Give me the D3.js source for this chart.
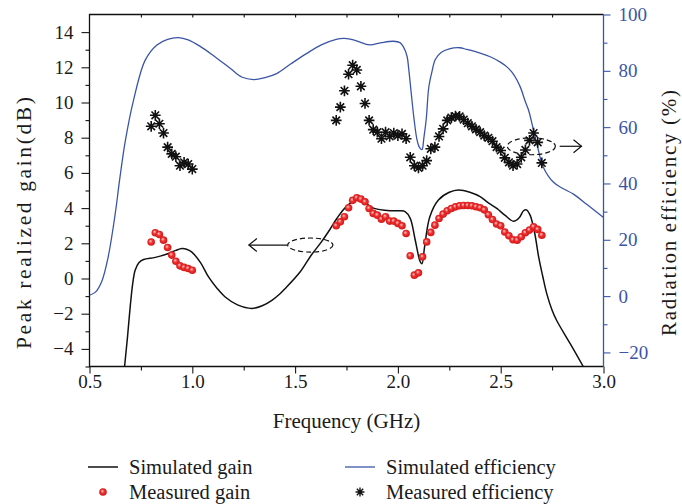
<!DOCTYPE html>
<html><head><meta charset="utf-8">
<script src="https://cdn.jsdelivr.net/npm/d3@7"></script>
<style>
body{margin:0;background:#fff}
svg{display:block}
svg text{font-family:"Liberation Serif","Times New Roman",serif;fill:#1a1a1a}
</style>
</head><body>
<svg id="c" width="682" height="504"></svg>
<script>
// ---------- data ----------
const xTicks = [0.5, 1.0, 1.5, 2.0, 2.5, 3.0];
const gainTicks = [-4, -2, 0, 2, 4, 6, 8, 10, 12, 14];
const effTicks = [-20, 0, 20, 40, 60, 80, 100];

const simGainFreq = [0.664,0.674,0.685,0.698,0.71,0.722,0.74,0.763,0.82,0.884,0.92,0.95,0.975,0.998,1.04,1.079,1.12,1.16,1.22,1.29,1.34,1.387,1.428,1.452,1.525,1.58,1.628,1.67,1.703,1.75,1.80,1.84,1.881,1.963,2.01,2.035,2.06,2.084,2.108,2.117,2.13,2.155,2.197,2.25,2.295,2.35,2.40,2.44,2.481,2.52,2.563,2.59,2.611,2.625,2.643,2.665,2.685,2.705,2.725,2.75,2.773,2.838,2.903];
const simGainDb = [-5.8,-4.6,-3.3,-1.6,-0.3,0.47,0.9,1.08,1.2,1.42,1.6,1.7,1.65,1.5,0.9,0.09,-0.55,-1.05,-1.5,-1.7,-1.55,-1.24,-0.85,-0.57,0.38,1.35,2.08,2.8,3.41,4.1,4.46,4.3,4.0,3.85,3.85,3.8,3.42,2.2,0.97,0.84,1.82,3.5,4.46,4.9,5.03,4.9,4.65,4.3,3.98,3.6,3.25,3.45,3.85,3.9,3.6,2.6,1.2,0.1,-0.9,-1.8,-2.4,-3.7,-5.03];

const simEffFreq = [0.50,0.53,0.56,0.59,0.625,0.646,0.674,0.714,0.771,0.828,0.88,0.933,0.98,1.04,1.11,1.184,1.24,1.298,1.35,1.41,1.48,1.557,1.63,1.70,1.74,1.784,1.83,1.865,1.92,1.979,2.01,2.027,2.045,2.053,2.065,2.077,2.093,2.105,2.117,2.126,2.138,2.15,2.165,2.182,2.21,2.25,2.30,2.335,2.40,2.449,2.50,2.53,2.565,2.595,2.62,2.636,2.66,2.676,2.708,2.757,2.80,2.854,2.92,3.0];
const simEffPct = [0.3,1.5,5.3,13.6,29.2,41,55,69.5,83.8,89.2,91.2,91.8,91,88.6,85,80.9,77.8,76.9,77.5,79,82.5,86.2,89.3,91.2,91.5,91,89.8,89.2,90,90.5,90,88.5,85,80.4,72,63.8,55.5,52.8,52,56,63,74,79.5,84,86.5,87.8,88.2,87.6,86.3,85,83,81.4,78.5,74.3,69,65.9,58.8,54,45.7,40.4,38.3,36.2,32.5,27.9];

const measFreqLow = [0.80,0.82,0.84,0.86,0.88,0.90,0.92,0.94,0.96,0.98,1.00];
const measGainLow = [2.07,2.60,2.50,2.18,1.76,1.33,0.98,0.72,0.63,0.57,0.47];
const measEffLow  = [60.3,64.2,61.2,57.9,52.9,50.5,49.5,46.3,47.5,46.9,45.1];

const measFreqHigh = [1.70,1.72,1.74,1.76,1.78,1.80,1.82,1.84,1.86,1.88,1.90,1.92,1.94,1.96,1.98,2.00,2.02,2.04,2.06,2.08,2.10,2.12,2.14,2.16,2.18,2.20,2.22,2.24,2.26,2.28,2.30,2.32,2.34,2.36,2.38,2.40,2.42,2.44,2.46,2.48,2.50,2.52,2.54,2.56,2.58,2.60,2.62,2.64,2.66,2.68,2.70];
const measGainHigh = [3.0,3.22,3.51,4.02,4.44,4.59,4.51,4.36,3.98,3.70,3.60,3.37,3.51,3.26,3.26,3.13,3.0,2.56,1.29,0.19,0.32,1.23,2.08,2.62,3.03,3.41,3.66,3.85,3.98,4.07,4.13,4.15,4.15,4.13,4.08,4.02,3.90,3.62,3.35,3.10,3.0,2.64,2.43,2.20,2.18,2.37,2.60,2.75,2.94,2.79,2.46];
const measEffHigh = [62.4,67.1,72.9,78.8,82.0,80.3,74.5,68.4,62.4,59.1,58.2,55.9,58.2,56.7,57.9,57.0,57.6,55.9,49.3,46.3,45.5,46.3,48.1,52.3,52.9,56.7,59.4,62.4,63.4,63.9,63.8,62.7,61.4,60.3,59.2,58.2,57.0,56.2,55.0,52.9,51.7,49.1,47.5,46.3,46.9,49.3,51.9,55.3,57.9,54.6,47.3];

const legendLabels = ["Simulated gain","Measured gain","Simulated efficiency","Measured efficiency"];

// ---------- layout ----------
const P = {l:89.5, r:603.5, t:14.5, b:366.5};
const BLUE = "#3b55a6";
const FONT = '"Liberation Serif","Times New Roman",serif';

const svg = d3.select("#c");
const defs = svg.append("defs");
defs.append("clipPath").attr("id","clip").append("rect")
  .attr("x",P.l).attr("y",P.t).attr("width",P.r-P.l).attr("height",P.b-P.t);
const grad = defs.append("radialGradient").attr("id","ball").attr("cx","50%").attr("cy","50%").attr("r","55%").attr("fx","38%").attr("fy","35%");
grad.append("stop").attr("offset","0%").attr("stop-color","#ffd0d0");
grad.append("stop").attr("offset","45%").attr("stop-color","#f03030");
grad.append("stop").attr("offset","100%").attr("stop-color","#cc1414");

const x = d3.scaleLinear().domain([0.5,3.0]).range([P.l,P.r]);
const yL = d3.scaleLinear().domain([-5,15]).range([P.b,P.t]);
const yR = d3.scaleLinear().domain([-25,100]).range([P.b,P.t]);

const tickFont = "19px";
function styleAxis(g, color){
  g.attr("font-family", FONT);
  g.select(".domain").remove();
  g.selectAll("line").attr("stroke", color).attr("stroke-width",1.1);
  g.selectAll("text").style("font-size",tickFont).style("font-family",FONT).style("fill",color);
}

// bottom axis
svg.append("g").attr("transform",`translate(0,${P.b})`)
  .call(d3.axisBottom(x).tickValues(d3.range(0.75, 3.0, 0.5)).tickSize(4).tickSizeOuter(0).tickFormat(""))
  .call(g=>styleAxis(g,"#111"));
svg.append("g").attr("transform",`translate(0,${P.b})`)
  .call(d3.axisBottom(x).tickValues(xTicks).tickSize(7).tickPadding(1).tickSizeOuter(0).tickFormat(d3.format(".1f")))
  .call(g=>styleAxis(g,"#1a1a1a"));
// top ticks (inward)
svg.append("g").attr("transform",`translate(0,${P.t})`)
  .call(d3.axisTop(x).tickValues(d3.range(0.75,3.0,0.25)).tickSize(-3).tickSizeOuter(0).tickFormat(""))
  .call(g=>styleAxis(g,"#111"));

// left axis
svg.append("g").attr("transform",`translate(${P.l},0)`)
  .call(d3.axisLeft(yL).tickValues(d3.range(-5,15,2)).tickSize(4).tickSizeOuter(0).tickFormat(""))
  .call(g=>styleAxis(g,"#111"));
svg.append("g").attr("transform",`translate(${P.l},0)`)
  .call(d3.axisLeft(yL).tickValues(gainTicks).tickSize(8).tickPadding(8).tickSizeOuter(0))
  .call(g=>styleAxis(g,"#1a1a1a"));

// right axis
svg.append("g").attr("transform",`translate(${P.r},0)`)
  .call(d3.axisRight(yR).tickValues(d3.range(-10,100,20)).tickSize(4).tickSizeOuter(0).tickFormat(""))
  .call(g=>styleAxis(g,BLUE));
svg.append("g").attr("transform",`translate(${P.r},0)`)
  .call(d3.axisRight(yR).tickValues(effTicks).tickSize(7).tickPadding(8).tickSizeOuter(0))
  .call(g=>styleAxis(g,BLUE));

// frame
svg.append("path").attr("d",`M${P.r},${P.t}H${P.l}V${P.b}H${P.r}`).attr("fill","none").attr("stroke","#111").attr("stroke-width",1.3);
svg.append("line").attr("x1",P.r).attr("x2",P.r).attr("y1",P.t).attr("y2",P.b).attr("stroke",BLUE).attr("stroke-width",1.3);

// titles
svg.append("text").attr("x",(P.l+P.r)/2).attr("y",428).attr("text-anchor","middle").style("font-size","21px").text("Frequency (GHz)");
svg.append("text").attr("transform","translate(31,223) rotate(-90)").attr("text-anchor","middle").style("font-size","21.5px").attr("textLength",252).attr("lengthAdjust","spacing").text("Peak realized gain(dB)");
svg.append("text").attr("transform","translate(676,213) rotate(-90)").attr("text-anchor","middle").style("font-size","21px").attr("textLength",246).attr("lengthAdjust","spacing").text("Radiation efficiency (%)");

// ---------- marks ----------
const plot = svg.append("g").attr("clip-path","url(#clip)");
const curve = d3.curveCatmullRom.alpha(0.5);
const simEff = simEffFreq.map((f,i)=>[f,simEffPct[i]]);
const simGain = simGainFreq.map((f,i)=>[f,simGainDb[i]]);
plot.append("path").datum(simEff).attr("fill","none").attr("stroke",BLUE).attr("stroke-width",1.3)
  .attr("d",d3.line().x(d=>x(d[0])).y(d=>yR(d[1])).curve(curve));
plot.append("path").datum(simGain).attr("fill","none").attr("stroke","#111").attr("stroke-width",1.5)
  .attr("d",d3.line().x(d=>x(d[0])).y(d=>yL(d[1])).curve(curve));

// 8-armed asterisk symbol
const star8 = {draw(ctx, size){
  const r = Math.sqrt(size)/2, d = r*Math.SQRT1_2;
  ctx.moveTo(0,-r); ctx.lineTo(0,r);
  ctx.moveTo(-r,0); ctx.lineTo(r,0);
  ctx.moveTo(-d,-d); ctx.lineTo(d,d);
  ctx.moveTo(-d,d); ctx.lineTo(d,-d);
}};
const star = d3.symbol().type(star8).size(115);
const effPts = measFreqLow.map((f,i)=>[f,measEffLow[i]]).concat(measFreqHigh.map((f,i)=>[f,measEffHigh[i]]));
plot.selectAll(".st").data(effPts).enter().append("path")
  .attr("transform",d=>`translate(${x(d[0])},${yR(d[1])})`).attr("d",star)
  .attr("fill","none").attr("stroke","#111").attr("stroke-width",1.6);

const gainPts = measFreqLow.map((f,i)=>[f,measGainLow[i]]).concat(measFreqHigh.map((f,i)=>[f,measGainHigh[i]]));
plot.selectAll(".dot").data(gainPts).enter().append("circle")
  .attr("cx",d=>x(d[0])).attr("cy",d=>yL(d[1])).attr("r",3.8).attr("fill","url(#ball)");

// ---------- annotations ----------
function annot(cx, cy, rx, ry, ys, x0, x1){
  const px = x(cx), py = ys(cy);
  const prx = x(cx+rx)-px, pry = ys(cy-ry)-py;
  svg.append("ellipse").attr("cx",px).attr("cy",py).attr("rx",prx).attr("ry",pry)
    .attr("fill","none").attr("stroke","#111").attr("stroke-width",1.2).attr("stroke-dasharray","5,3");
  const a = x(x0), b = x(x1);
  svg.append("line").attr("x1",a).attr("x2",b).attr("y1",py).attr("y2",py).attr("stroke","#111").attr("stroke-width",1.2);
  const dir = b < a ? 1 : -1;
  svg.append("path").attr("d",`M${b+dir*8},${py-6.5}L${b},${py}L${b+dir*8},${py+6.5}`)
    .attr("fill","none").attr("stroke","#111").attr("stroke-width",1.2);
}
annot(1.574, 1.9, 0.11, 0.4, yL, 1.464, 1.275);
annot(2.649, 53.2, 0.117, 3.0, yR, 2.787, 2.893);

// ---------- legend ----------
const lg = svg.append("g").style("font-size","20.5px");
const cols = [88, 345], rows = [467, 492];
lg.append("line").attr("x1",cols[0]).attr("x2",cols[0]+30).attr("y1",rows[0]).attr("y2",rows[0]).attr("stroke","#111").attr("stroke-width",1.5);
lg.append("circle").attr("cx",cols[0]+15).attr("cy",rows[1]).attr("r",3.8).attr("fill","url(#ball)");
lg.append("line").attr("x1",cols[1]).attr("x2",cols[1]+30).attr("y1",rows[0]).attr("y2",rows[0]).attr("stroke",BLUE).attr("stroke-width",1.3);
lg.append("path").attr("transform",`translate(${cols[1]+15},${rows[1]})`).attr("d",d3.symbol().type(star8).size(80)).attr("fill","none").attr("stroke","#111").attr("stroke-width",1.4);
[[0,0],[0,1],[1,0],[1,1]].forEach(([c,r])=>{
  lg.append("text").attr("x",cols[c]+41).attr("y",rows[r]).attr("dy","0.33em").text(legendLabels[c*2+r]);
});
</script>
</body></html>
